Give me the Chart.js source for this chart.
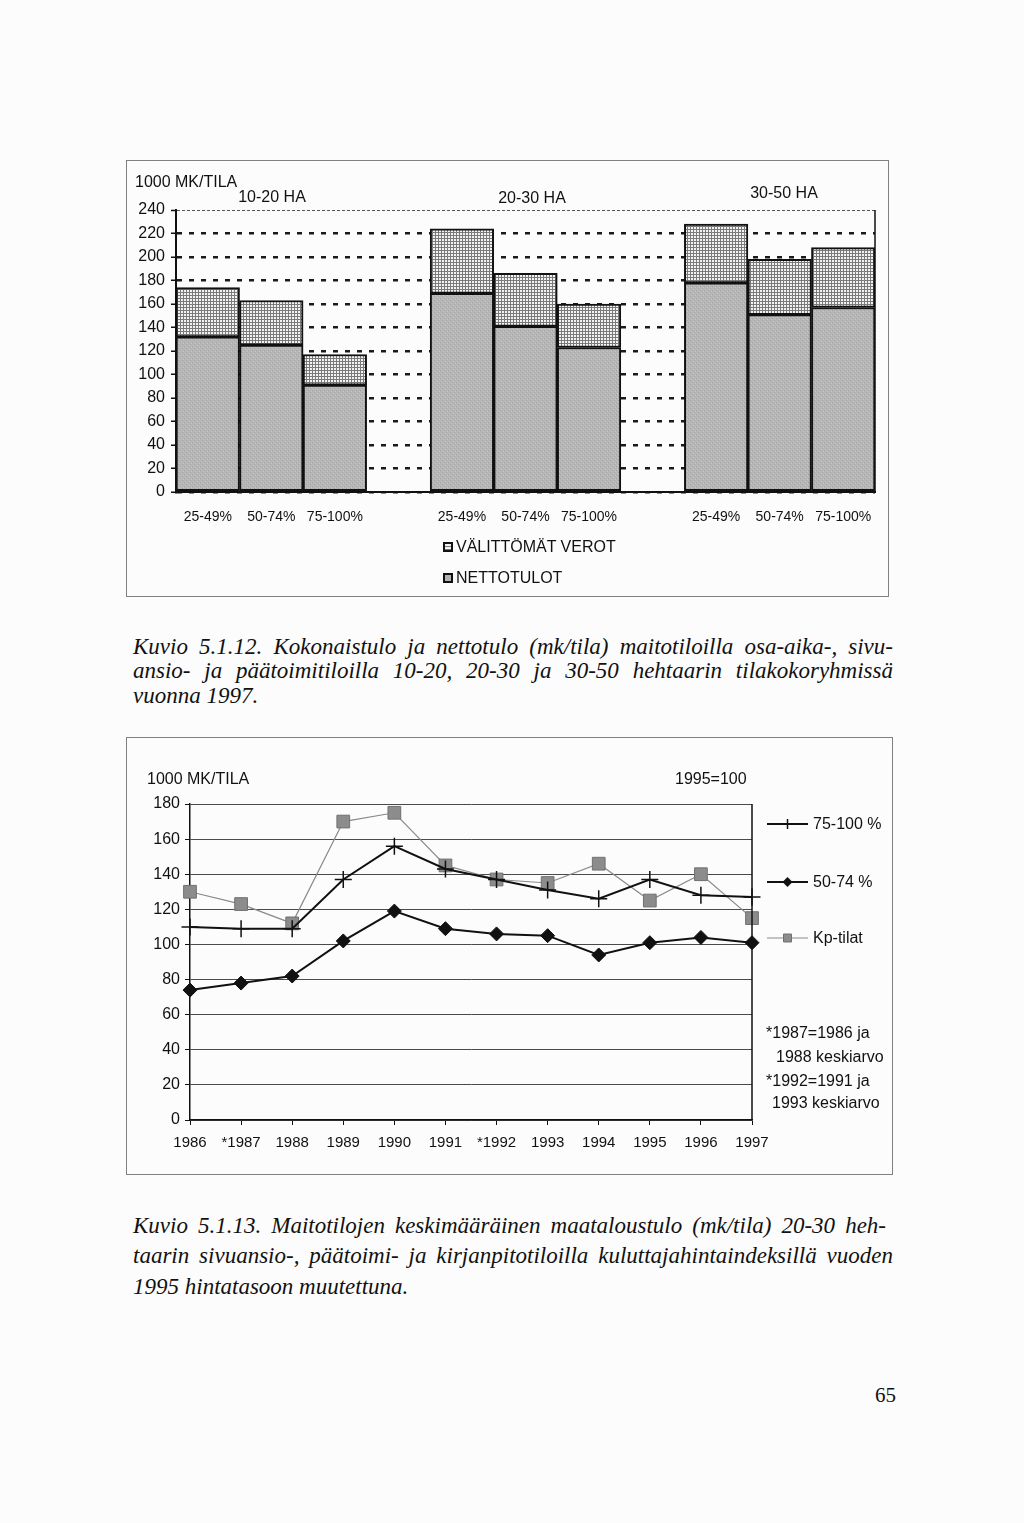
<!DOCTYPE html>
<html><head><meta charset="utf-8">
<script src="https://cdn.jsdelivr.net/npm/chart.js@4/dist/chart.umd.min.js"></script>
<style>
html,body{margin:0;padding:0}
body{background:#fcfcfc;width:1024px;height:1523px;position:relative;overflow:hidden;font-family:'Liberation Sans',Arial,sans-serif;color:#111}
.box{position:absolute;border:1px solid #808080;box-sizing:border-box}
canvas{position:absolute}
.t{position:absolute;white-space:nowrap;font-size:16px;line-height:1}
.c{transform:translateX(-50%)}
.mk{position:absolute;width:10px;height:10px;box-sizing:border-box;border:2px solid #111}
.cap{position:absolute;left:133px;width:760px;font-family:'Liberation Serif','Times New Roman',serif;font-style:italic;font-size:23px;color:#111}
.j{text-align:justify;text-align-last:justify}
</style></head><body>

<div class="box" style="left:126px;top:160px;width:763px;height:437px"></div>
<canvas id="top" width="763" height="437" style="left:126px;top:160px"></canvas>
<div class="t" style="left:135px;top:174px">1000 MK/TILA</div>
<div class="t c" style="left:272px;top:189px">10-20 HA</div>
<div class="t c" style="left:532px;top:190px">20-30 HA</div>
<div class="t c" style="left:784px;top:185px">30-50 HA</div>
<div class="mk" style="left:443px;top:542px;background:repeating-linear-gradient(0deg,#777 0 1px,#f2f2f2 1px 3px),#f2f2f2"></div>
<div class="t" style="left:456px;top:539px">VÄLITTÖMÄT VEROT</div>
<div class="mk" style="left:443px;top:573px;background:#b4b4b4"></div>
<div class="t" style="left:456px;top:570px">NETTOTULOT</div>

<div class="cap" style="top:634px">
<div class="j" style="position:absolute;top:0;width:760px">Kuvio 5.1.12. Kokonaistulo ja nettotulo (mk/tila) maitotiloilla osa-aika-, sivu-</div>
<div class="j" style="position:absolute;top:24px;width:760px">ansio- ja päätoimitiloilla 10-20, 20-30 ja 30-50 hehtaarin tilakokoryhmissä</div>
<div style="position:absolute;top:49px;white-space:nowrap">vuonna 1997.</div>
</div>

<div class="box" style="left:126px;top:737px;width:767px;height:438px"></div>
<canvas id="bottom" width="764" height="438" style="left:126px;top:737px"></canvas>
<div class="t" style="left:147px;top:771px">1000 MK/TILA</div>
<div class="t" style="left:675px;top:771px">1995=100</div>
<div class="t" style="left:766px;top:1025px">*1987=1986 ja</div>
<div class="t" style="left:776px;top:1049px">1988 keskiarvo</div>
<div class="t" style="left:766px;top:1073px">*1992=1991 ja</div>
<div class="t" style="left:772px;top:1095px">1993 keskiarvo</div>

<div class="cap" style="top:1213px">
<div class="j" style="position:absolute;top:0;width:753px">Kuvio 5.1.13. Maitotilojen keskimääräinen maataloustulo (mk/tila) 20-30 heh-</div>
<div class="j" style="position:absolute;top:30px;width:760px">taarin sivuansio-, päätoimi- ja kirjanpitotiloilla kuluttajahintaindeksillä vuoden</div>
<div style="position:absolute;top:61px;white-space:nowrap">1995 hintatasoon muutettuna.</div>
</div>

<div style="position:absolute;left:875px;top:1383px;font-family:'Liberation Serif','Times New Roman',serif;font-size:21px;color:#111">65</div>

<script>
// ---- Data: chart 1 (Kuvio 5.1.12) ----
const categories = ['25-49%','50-74%','75-100%','','25-49%','50-74%','75-100%','','25-49%','50-74%','75-100%'];
const nettotulot      = [132,125,91,null,169,141,123,null,178,151,157];
const valittomatVerot = [42,38,26,null,55,45,37,null,50,47,51];
const yMaxTop = 240, yStepTop = 20;

// ---- Data: chart 2 (Kuvio 5.1.13) ----
const years   = ['1986','*1987','1988','1989','1990','1991','*1992','1993','1994','1995','1996','1997'];
const s75_100 = [110,109,109,137,156,143,137,131,126,137,128,127];
const s50_74  = [74,78,82,102,119,109,106,105,94,101,104,101];
const kpTilat = [130,123,112,170,175,145,137,135,146,125,140,115];
const yMaxBottom = 180, yStepBottom = 20;

const F = "'Liberation Sans', Arial, sans-serif";

function makePattern(w,h,draw){
  const c=document.createElement('canvas');c.width=w;c.height=h;
  const g=c.getContext('2d');draw(g);return g.createPattern(c,'repeat');
}
const netPat = makePattern(4,4,g=>{
  g.fillStyle='#b6b6b6';g.fillRect(0,0,4,4);
  g.fillStyle='#a4a4a4';g.fillRect(0,0,1,1);g.fillRect(2,2,1,1);
  g.fillStyle='#c6c6c6';g.fillRect(1,3,1,1);g.fillRect(3,1,1,1);
});
const gridPat = makePattern(3,3,g=>{
  g.fillStyle='#f3f3f3';g.fillRect(0,0,3,3);
  g.fillStyle='#7a7a7a';g.fillRect(0,0,3,1);g.fillRect(0,0,1,3);
});

const frameRight = {id:'frameRight', afterDatasetsDraw(chart,args,opts){
  const {ctx,chartArea:a}=chart;
  ctx.save();ctx.strokeStyle='#111';ctx.lineWidth=opts.width||1.5;
  ctx.beginPath();ctx.moveTo(a.right,a.top);ctx.lineTo(a.right,a.bottom);ctx.stroke();ctx.restore();
}};

new Chart(document.getElementById('top').getContext('2d'), {
  type:'bar',
  data:{labels:categories, datasets:[
    {label:'NETTOTULOT', data:nettotulot, backgroundColor:netPat, borderColor:'#111', borderWidth:2, borderSkipped:false, stack:'s'},
    {label:'VÄLITTÖMÄT VEROT', data:valittomatVerot, backgroundColor:gridPat, borderColor:'#111', borderWidth:2, borderSkipped:false, stack:'s'}
  ]},
  options:{
    responsive:false, animation:false, events:[],
    layout:{padding:{left:0,top:50,right:14,bottom:0}},
    datasets:{bar:{barPercentage:1,categoryPercentage:1}},
    plugins:{legend:{display:false},tooltip:{enabled:false},frameRight:{width:1.5}},
    scales:{
      x:{stacked:true, grid:{display:false}, border:{display:true,color:'#111',width:2},
         ticks:{font:{size:14,family:F},color:'#111',padding:9,autoSkip:false,maxRotation:0},
         afterFit:s=>{s.height=105;}},
      y:{stacked:true, min:0, max:yMaxTop,
         ticks:{stepSize:yStepTop,font:{size:16,family:F},color:'#111',padding:6},
         grid:{color:c=>c.tick&&c.tick.value===yMaxTop?'#555':'#1a1a1a',
               lineWidth:c=>c.tick&&c.tick.value===yMaxTop?1:2.5,
               tickLength:5,tickColor:'#111',tickWidth:1.5},
         border:{color:'#111',width:2,dash:c=>c.tick&&c.tick.value===yMaxTop?[3,2]:[5,7]},
         afterFit:s=>{s.width=50;}}
    }
  },
  plugins:[frameRight]
});

const lineLegend = {id:'lineLegend', afterDraw(chart){
  const {ctx,chartArea:a}=chart;
  const rows=[87,145,201];
  chart.data.datasets.forEach((ds,i)=>{
    const y=rows[i], x0=a.right+15, x1=a.right+56, xm=(x0+x1)/2;
    ctx.save();
    ctx.strokeStyle=ds.borderColor;ctx.lineWidth=ds.borderWidth;
    ctx.beginPath();ctx.moveTo(x0,y);ctx.lineTo(x1,y);ctx.stroke();
    ctx.fillStyle=ds.pointBackgroundColor||ds.borderColor;ctx.strokeStyle=ds.pointBorderColor||ds.borderColor;
    ctx.lineWidth=1.5;ctx.beginPath();
    if(ds.pointStyle==='cross'){ctx.moveTo(xm,y-5);ctx.lineTo(xm,y+5);ctx.stroke();}
    else if(ds.pointStyle==='rectRot'){ctx.moveTo(xm-5,y);ctx.lineTo(xm,y-5);ctx.lineTo(xm+5,y);ctx.lineTo(xm,y+5);ctx.closePath();ctx.fill();}
    else {ctx.rect(xm-4,y-4,8,8);ctx.fill();ctx.lineWidth=1;ctx.stroke();}
    ctx.fillStyle='#111';ctx.font='16px '+F;ctx.textBaseline='middle';
    ctx.fillText(ds.label,a.right+61,y+1);
    ctx.restore();
  });
}};

new Chart(document.getElementById('bottom').getContext('2d'), {
  type:'line',
  data:{labels:years, datasets:[
    {label:'75-100 %', data:s75_100, borderColor:'#111', borderWidth:2, pointStyle:'cross', pointRadius:8.5,
     pointBorderWidth:1.5, pointBorderColor:'#111', pointBackgroundColor:'#111', tension:0, clip:false},
    {label:'50-74 %', data:s50_74, borderColor:'#111', borderWidth:2, pointStyle:'rectRot', pointRadius:7,
     pointBorderWidth:1, pointBorderColor:'#111', pointBackgroundColor:'#111', tension:0, clip:false},
    {label:'Kp-tilat', data:kpTilat, borderColor:'#8a8a8a', borderWidth:1.2, pointStyle:'rect', pointRadius:9,
     pointBorderWidth:1, pointBorderColor:'#707070', pointBackgroundColor:'#8c8c8c', tension:0, clip:false}
  ]},
  options:{
    responsive:false, animation:false, events:[],
    layout:{padding:{left:0,top:67,right:138,bottom:0}},
    plugins:{legend:{display:false},tooltip:{enabled:false},frameRight:{width:1.5}},
    scales:{
      x:{offset:false, grid:{drawOnChartArea:false,drawTicks:true,tickLength:5,tickColor:'#111'},
         border:{color:'#111',width:1.5},
         ticks:{font:{size:15,family:F},color:'#111',padding:9,autoSkip:false,maxRotation:0},
         afterFit:s=>{s.height=55;}},
      y:{min:0,max:yMaxBottom,
         ticks:{stepSize:yStepBottom,font:{size:16,family:F},color:'#111',padding:5},
         grid:{color:'#4a4a4a',lineWidth:1,tickLength:5,tickColor:'#111'},
         border:{color:'#111',width:1.5},
         afterFit:s=>{s.width=64;}}
    }
  },
  plugins:[frameRight, lineLegend]
});
</script>
</body></html>
